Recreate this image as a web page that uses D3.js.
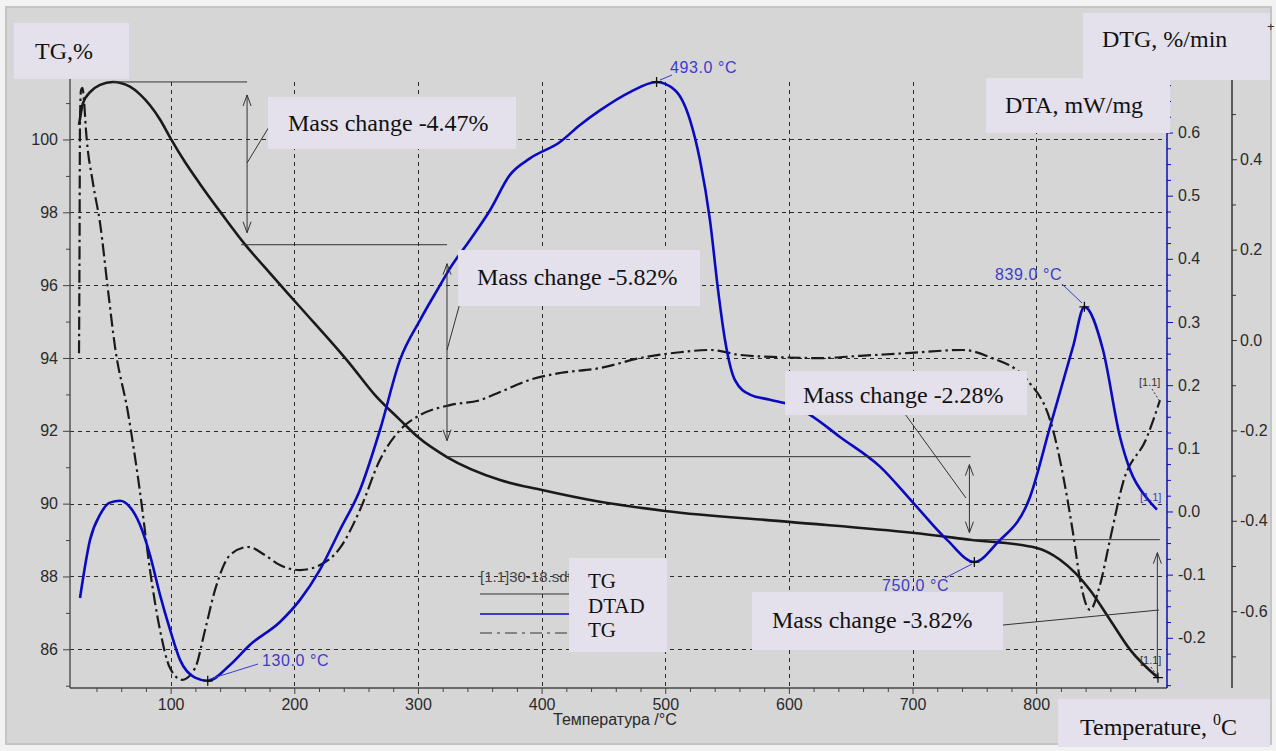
<!DOCTYPE html>
<html><head><meta charset="utf-8">
<script src="https://cdn.jsdelivr.net/npm/d3@7"></script>
<style>body{margin:0;background:#f2f2f2;} svg{display:block}</style>
</head><body><svg id="c" width="1276" height="751"></svg>
<script>
// ---------- DATA ----------
const tgTemp = [25.9,29.1,34.8,42.9,53.4,67.1,75.2,83.3,91.4,100.3,111.6,123.7,141.5,160.1,180.3,204.6,245.0,265.3,285.5,300,323.5,366.4,399.5,447.2,499.8,600.1,699.6,746.5,799.8,819.3,843.5,859.7,875.9,898.5];
const tgVal  = [100.40,101.00,101.30,101.50,101.58,101.45,101.24,100.94,100.55,100.01,99.38,98.78,97.95,97.12,96.33,95.40,93.84,92.98,92.30,91.83,91.28,90.65,90.38,90.05,89.80,89.50,89.20,89.01,88.79,88.46,87.63,86.81,85.99,85.22];

const dtaTemp = [26.7,34.8,42.9,50.9,59.0,67.1,75.2,83.3,91.4,99.5,107.6,119.7,130.0,148.0,164.2,188.4,204.6,220.8,237.0,253.1,269.3,285.5,301.7,317.8,325.9,342.1,358.3,374.4,390.6,414.9,431.1,447.2,471.5,493.0,507.9,520.0,528.1,536.2,542.7,548.3,556.4,568.5,584.7,600.9,617.0,641.3,673.7,700.4,727.9,750.0,768.3,795.0,811.2,829.8,839.0,854.0,867.8,875.9,890.4,897.7];
const dtaVal  = [-0.137,-0.045,-0.005,0.014,0.017,0.007,-0.021,-0.069,-0.132,-0.187,-0.235,-0.263,-0.268,-0.243,-0.211,-0.175,-0.140,-0.092,-0.029,0.034,0.129,0.240,0.303,0.358,0.385,0.430,0.477,0.533,0.559,0.585,0.612,0.635,0.664,0.680,0.667,0.620,0.556,0.461,0.351,0.272,0.208,0.185,0.177,0.169,0.153,0.118,0.071,0.014,-0.045,-0.080,-0.050,0.023,0.134,0.261,0.324,0.256,0.118,0.066,0.019,0.003];

const dtgTemp = [25.9,26.3,26.7,27.5,28.7,29.9,31.5,37.2,42.9,49.3,55.0,65.5,75.2,83.3,91.4,99.5,109.2,119.7,127.8,135.9,148.0,162.6,176.3,188.4,204.6,220.8,237.0,253.1,269.3,285.5,301.7,325.9,350.2,366.4,390.6,414.9,447.2,479.6,511.9,536.2,560.5,592.8,625.2,657.5,695.5,740.8,762.6,792.5,813.6,829.8,835.5,843.5,851.6,859.7,870.2,889.6,896.1,900.1];
const dtgVal  = [-0.029,0.199,0.487,0.553,0.558,0.531,0.465,0.347,0.259,0.111,-0.015,-0.161,-0.336,-0.509,-0.642,-0.726,-0.752,-0.726,-0.642,-0.553,-0.476,-0.458,-0.476,-0.498,-0.509,-0.498,-0.460,-0.376,-0.265,-0.199,-0.166,-0.144,-0.133,-0.115,-0.088,-0.073,-0.062,-0.040,-0.027,-0.022,-0.033,-0.038,-0.040,-0.035,-0.029,-0.022,-0.038,-0.088,-0.199,-0.427,-0.531,-0.597,-0.542,-0.442,-0.316,-0.215,-0.166,-0.133];

const xTicks = [100,200,300,400,500,600,700,800];
const tgTicks = [86,88,90,92,94,96,98,100];
const dtaTicks = [-0.2,-0.1,0.0,0.1,0.2,0.3,0.4,0.5,0.6];
const dtgTicks = [-0.6,-0.4,-0.2,0.0,0.2,0.4];

const massChanges = ["-4.47%","-5.82%","-2.28%","-3.82%"];
const tgLevels = [101.58,97.11,91.29,89.01,85.19];
const arrowTemps = [161.8,323.5,746.0,898.0];
const peakTemps = [130.0,493.0,750.0,839.0];
const peakVals  = [-0.268,0.680,-0.080,0.324];
const legendNames = ["TG","DTAD","TG"];

// ---------- SETUP ----------
const svg = d3.select('#c');
const L=70, R=1167, T=82, B=688, R2=1232;
const x = d3.scaleLinear().domain([18.6,905.8]).range([L,R]);
const yTG = d3.scaleLinear().domain([84.937,101.579]).range([B,T]);
const yDTA = d3.scaleLinear().domain([-0.2795,0.68]).range([B,T]);
const yDTG = d3.scaleLinear().domain([-0.770,0.571]).range([B,T]);

const BG='#d6d6d6', BOX='#e5e1ec', INK='#1a1a1a', BLUE='#0a0ac0', LBLUE='#3c3cc8';
const SANS='"Liberation Sans", Arial, sans-serif', SERIF='"Liberation Serif","Times New Roman",serif';

svg.append('rect').attr('x',6).attr('y',7).attr('width',1265).attr('height',737)
  .attr('fill',BG).attr('stroke','#c4c4c4').attr('stroke-width',2);

// gridlines
const grid = svg.append('g').attr('stroke','#2a2a2a').attr('stroke-width',1).attr('stroke-dasharray','4,4');
grid.selectAll('line.v').data(xTicks).join('line').attr('class','v')
  .attr('x1',d=>Math.round(x(d))+0.5).attr('x2',d=>Math.round(x(d))+0.5).attr('y1',T).attr('y2',B);
grid.selectAll('line.h').data(tgTicks).join('line').attr('class','h')
  .attr('x1',L).attr('x2',R).attr('y1',d=>Math.round(yTG(d))+0.5).attr('y2',d=>Math.round(yTG(d))+0.5);

// curves
const zip=(a,b)=>a.map((t,i)=>[t,b[i]]);
const lineTG = d3.line().x(d=>x(d[0])).y(d=>yTG(d[1])).curve(d3.curveMonotoneX);
const lineDTA = d3.line().x(d=>x(d[0])).y(d=>yDTA(d[1])).curve(d3.curveMonotoneX);
const lineDTG = d3.line().x(d=>x(d[0])).y(d=>yDTG(d[1])).curve(d3.curveMonotoneX);

svg.append('path').attr('d',lineDTG(zip(dtgTemp,dtgVal))).attr('fill','none')
  .attr('stroke',INK).attr('stroke-width',2.2).attr('stroke-dasharray','13,4,2.5,4');
svg.append('path').attr('d',lineTG(zip(tgTemp,tgVal))).attr('fill','none')
  .attr('stroke',INK).attr('stroke-width',2.6);
svg.append('path').attr('d',lineDTA(zip(dtaTemp,dtaVal))).attr('fill','none')
  .attr('stroke',BLUE).attr('stroke-width',2.6);

// ---------- ANNOTATIONS ----------
const ann = svg.append('g').attr('stroke','#333').attr('stroke-width',1).attr('fill','none');
function hline(t1,t2,v){ ann.append('line').attr('x1',x(t1)).attr('x2',x(t2)).attr('y1',yTG(v)).attr('y2',yTG(v)); }
function varrow(xp,y1,y2,heads){
  ann.append('line').attr('x1',xp).attr('x2',xp).attr('y1',y1).attr('y2',y2);
  if(heads[0]) ann.append('path').attr('d',`M${xp-4},${y1+11}L${xp},${y1}L${xp+4},${y1+11}`);
  if(heads[1]) ann.append('path').attr('d',`M${xp-4},${y2-11}L${xp},${y2}L${xp+4},${y2-11}`);
}
function lead(x1,y1,x2,y2,c){ svg.append('line').attr('x1',x1).attr('y1',y1).attr('x2',x2).attr('y2',y2).attr('stroke',c||'#333').attr('stroke-width',1); }
function plus(cx,cy,c){ const s=5; svg.append('path').attr('d',`M${cx-s},${cy}H${cx+s}M${cx},${cy-s}V${cy+s}`).attr('stroke',c||'#111').attr('stroke-width',1.3); }

// horizontal level lines
hline(53.4, arrowTemps[0], tgLevels[0]);
hline(157, arrowTemps[1], tgLevels[1]);
hline(arrowTemps[1], arrowTemps[2]+1, tgLevels[2]);
hline(arrowTemps[2]+2, arrowTemps[3]+2, tgLevels[3]);
// arrows
const insets=[[13,12],[19,16],[8,7],[13,0]];
arrowTemps.forEach((t,i)=>{
  varrow(x(t), yTG(tgLevels[i])+insets[i][0], yTG(tgLevels[i+1])-insets[i][1], [true, i<3]);
});
// leader lines for mass-change boxes
lead(247,163,272,122); lead(447,350,460,303); lead(966,498,905,414); lead(1159,610,1003,625);

// peak markers
const peakLab=[{lx:262,ly:666,a:[210,679,258,664]},{lx:670,ly:73,a:[660,80,672,75]},{lx:882,ly:591,a:[972,564,945,578]},{lx:995,ly:280,a:[1062,284,1082,303]}];
peakTemps.forEach((t,i)=>{
  const p=peakLab[i];
  lead(p.a[0],p.a[1],p.a[2],p.a[3],LBLUE);
  plus(x(t),yDTA(peakVals[i]));
  svg.append('text').attr('x',p.lx).attr('y',p.ly).text(t.toFixed(1)+' °C')
    .attr('font-family',SANS).attr('font-size',16).attr('letter-spacing',0.6).attr('fill',LBLUE);
});
plus(x(tgTemp[tgTemp.length-1]), yTG(tgVal[tgVal.length-1]));

// [1.1] end labels
function small(xp,yp,c){ svg.append('text').attr('x',xp).attr('y',yp).text('[1.1]').attr('font-family',SANS).attr('font-size',11).attr('fill',c); }
small(1139,386,'#333'); small(1140,501,LBLUE); small(1140,664,'#333');
svg.append('line').attr('x1',1152).attr('y1',389).attr('x2',1159).attr('y2',400).attr('stroke','#333').attr('stroke-dasharray','2,2');
svg.append('line').attr('x1',1151).attr('y1',667).attr('x2',1158).attr('y2',677).attr('stroke','#333').attr('stroke-dasharray','2,2');

// ---------- AXES ----------
function styleAxis(g,col){ g.select('.domain').remove(); g.selectAll('text').attr('font-family',SANS).attr('font-size',16).attr('fill','#2a2a2a'); g.selectAll('line').attr('stroke',col); }
// left TG
svg.append('line').attr('x1',L).attr('x2',L).attr('y1',40).attr('y2',B).attr('stroke','#555').attr('stroke-width',1.5);
styleAxis(svg.append('g').attr('transform',`translate(${L},0)`).call(d3.axisLeft(yTG).tickValues(tgTicks).tickSize(7).tickPadding(5).tickFormat(d3.format('d'))),'#444');
styleAxis(svg.append('g').attr('transform',`translate(${L},0)`).call(d3.axisLeft(yTG).tickValues(d3.range(85,102,2)).tickSize(4).tickFormat('')),'#444');
// bottom
svg.append('line').attr('x1',L).attr('x2',R).attr('y1',B).attr('y2',B).attr('stroke','#444').attr('stroke-width',1.5);
styleAxis(svg.append('g').attr('transform',`translate(0,${B})`).call(d3.axisBottom(x).tickValues(xTicks).tickSize(6).tickPadding(4.5).tickFormat(d3.format('d'))),'#444');
styleAxis(svg.append('g').attr('transform',`translate(0,${B})`).call(d3.axisBottom(x).tickValues(d3.range(40,900,20).filter(d=>d%100)).tickSize(4).tickFormat('')),'#444');
svg.append('text').attr('x',553).attr('y',725).text('Температура /°C').attr('font-family',SANS).attr('font-size',16).attr('fill','#2a2a2a');
// right DTA (blue)
svg.append('line').attr('x1',R).attr('x2',R).attr('y1',83).attr('y2',B).attr('stroke',BLUE).attr('stroke-width',1.5);
styleAxis(svg.append('g').attr('transform',`translate(${R},0)`).call(d3.axisRight(yDTA).tickValues(dtaTicks).tickSize(6).tickPadding(5).tickFormat(d=>d.toFixed(1))),BLUE);
styleAxis(svg.append('g').attr('transform',`translate(${R},0)`).call(d3.axisRight(yDTA).tickValues(d3.range(-0.275,0.68,0.025).filter(d=>Math.abs(d*10-Math.round(d*10))>0.01)).tickSize(4).tickFormat('')),BLUE);
// right DTG (black)
svg.append('line').attr('x1',R2).attr('x2',R2).attr('y1',78).attr('y2',B).attr('stroke','#333').attr('stroke-width',1.5);
styleAxis(svg.append('g').attr('transform',`translate(${R2},0)`).call(d3.axisRight(yDTG).tickValues(dtgTicks).tickSize(5).tickPadding(3).tickFormat(d=>d.toFixed(1))),'#333');
styleAxis(svg.append('g').attr('transform',`translate(${R2},0)`).call(d3.axisRight(yDTG).tickValues([-0.7,-0.5,-0.3,-0.1,0.1,0.3,0.5]).tickSize(4).tickFormat('')),'#333');

// ---------- LEGEND ----------
svg.append('text').attr('x',480).attr('y',582).text('[1.1]30-18.sdt').attr('font-family',SANS).attr('font-size',15).attr('fill','#444');
svg.append('line').attr('x1',480).attr('x2',572).attr('y1',594).attr('y2',594).attr('stroke','#333').attr('stroke-width',1.2);
svg.append('line').attr('x1',480).attr('x2',572).attr('y1',614).attr('y2',614).attr('stroke',BLUE).attr('stroke-width',1.5);
svg.append('line').attr('x1',480).attr('x2',572).attr('y1',633).attr('y2',633).attr('stroke','#333').attr('stroke-width',1.2).attr('stroke-dasharray','12,5,3,5');

// ---------- LABEL BOXES ----------
function box(x0,y0,w,h){ svg.append('rect').attr('x',x0).attr('y',y0).attr('width',w).attr('height',h).attr('fill',BOX); }
function stxt(xp,yp,s,size){ return svg.append('text').attr('x',xp).attr('y',yp).text(s).attr('font-family',SERIF).attr('font-size',size||24).attr('fill','#111'); }

box(569,558,98,94);
legendNames.forEach((n,i)=>stxt(588,588+i*24.5,n,21));

box(14,23,115,56); stxt(35,59,'TG,%');
box(1083,13,187,67); stxt(1102,47,'DTG, %/min');
box(986,78,184,55); stxt(1005,113,'DTA, mW/mg');
box(1058,699,212,48);
const tt = stxt(1080,735,'Temperature, ');
tt.append('tspan').attr('dy',-10).attr('font-size',16).text('0');
tt.append('tspan').attr('dy',10).text('C');

const mcBoxes=[[268,97,248,52,288,131],[458,250,242,56,477,285],[785,371,242,44,803,403],[752,592,251,58,772,628]];
massChanges.forEach((m,i)=>{ const b=mcBoxes[i]; box(b[0],b[1],b[2],b[3]); stxt(b[4],b[5],'Mass change '+m); });

svg.append('text').attr('x',1267).attr('y',31).text('+').attr('font-family',SANS).attr('font-size',13).attr('fill','#333');
</script></body></html>
